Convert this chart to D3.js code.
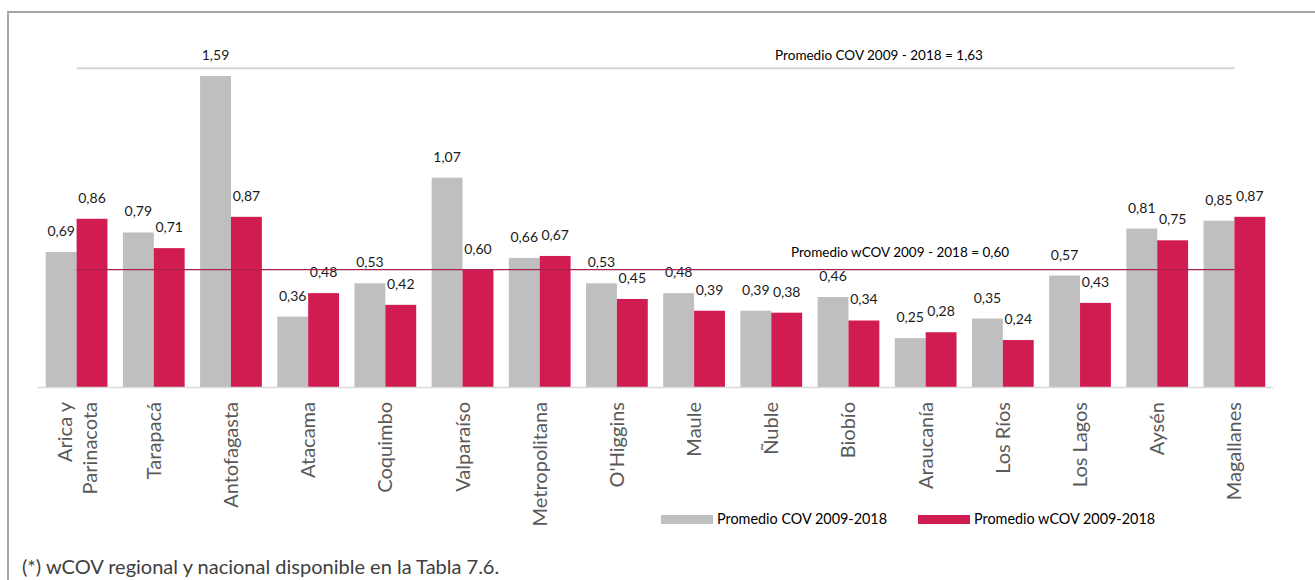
<!DOCTYPE html>
<html><head><meta charset="utf-8">
<script src="https://cdn.jsdelivr.net/npm/d3@7"></script>
<style>
html,body{margin:0;padding:0;background:#fff;}
svg{display:block;font-family:Lato,"Open Sans",sans-serif;}
</style></head>
<body>
<svg id="chart" width="1315" height="580"></svg>
<script>
const categories = ["Arica y Parinacota","Tarapacá","Antofagasta","Atacama","Coquimbo","Valparaíso","Metropolitana","O'Higgins","Maule","Ñuble","Biobío","Araucanía","Los Ríos","Los Lagos","Aysén","Magallanes"];
const cov  = [0.69,0.79,1.59,0.36,0.53,1.07,0.66,0.53,0.48,0.39,0.46,0.25,0.35,0.57,0.81,0.85];
const wcov = [0.86,0.71,0.87,0.48,0.42,0.60,0.67,0.45,0.39,0.38,0.34,0.28,0.24,0.43,0.75,0.87];
const seriesNames = ["Promedio COV 2009-2018","Promedio wCOV 2009-2018"];
const avgCov = 1.63, avgWcov = 0.60;
const avgLabels = ["Promedio COV 2009 - 2018 = 1,63","Promedio wCOV 2009 - 2018 = 0,60"];
const footnote = "(*) wCOV regional y nacional disponible en la Tabla 7.6.";

const svg = d3.select("#chart");
const grayC = "#bfbfbf", redC = "#d11c52";
const baseY = 387;
const x = d3.scaleBand().domain(categories).range([38,1273]).paddingInner(0.2).paddingOuter(0.1);
const x1 = d3.scaleBand().domain([0,1]).range([0,x.bandwidth()]);
const y = d3.scaleLinear().domain([0,1.59]).range([baseY, 76]);
const fmt = v => d3.format(".2f")(v).replace(".",",");

// border (top & left)
svg.append("path").attr("d","M8,1000 L8,12 L1400,12").attr("fill","none").attr("stroke","#a6a6a6").attr("stroke-width",2);

// bars
const g = svg.append("g");
const cat = g.selectAll("g.cat").data(categories).join("g").attr("transform",d=>`translate(${x(d)},0)`);
cat.append("rect").attr("x",x1(0)).attr("width",x1.bandwidth()).attr("y",(d,i)=>y(cov[i])).attr("height",(d,i)=>baseY-y(cov[i])).attr("fill",grayC);
cat.append("rect").attr("x",x1(1)).attr("width",x1.bandwidth()).attr("y",(d,i)=>y(wcov[i])).attr("height",(d,i)=>baseY-y(wcov[i])).attr("fill",redC);

// axis line
svg.append("line").attr("x1",38).attr("x2",1273).attr("y1",baseY+0.5).attr("y2",baseY+0.5).attr("stroke","#d9d9d9").attr("stroke-width",1.5);

// average lines
const xs = x(categories[0])+x.bandwidth()/2, xe = x(categories[categories.length-1])+x.bandwidth()/2;
svg.append("line").attr("x1",xs).attr("x2",xe).attr("y1",y(avgCov)).attr("y2",y(avgCov)).attr("stroke","#d4d4d4").attr("stroke-width",2);
svg.append("line").attr("x1",xs).attr("x2",xe).attr("y1",y(avgWcov)).attr("y2",y(avgWcov)).attr("stroke","#a8234f").attr("stroke-width",1.3);
svg.append("text").attr("x",879).attr("y",y(avgCov)-8).attr("text-anchor","middle").attr("font-size",13.5).attr("fill","#000").text(avgLabels[0]);
svg.append("text").attr("x",900).attr("y",y(avgWcov)-13).attr("text-anchor","middle").attr("font-size",13.5).attr("fill","#000").text(avgLabels[1]);

// data labels
cat.append("text").attr("x",x1(0)+x1.bandwidth()/2).attr("y",(d,i)=>y(cov[i])-16).attr("text-anchor","middle").attr("font-size",14).attr("fill","#1a1a1a").text((d,i)=>fmt(cov[i]));
cat.append("text").attr("x",x1(1)+x1.bandwidth()/2).attr("y",(d,i)=>y(wcov[i])-16).attr("text-anchor","middle").attr("font-size",14).attr("fill","#1a1a1a").text((d,i)=>fmt(wcov[i]));

// category labels (rotated)
const lab = svg.append("g").selectAll("text").data(categories).join("text")
  .attr("transform",d=>`translate(${x(d)+x.bandwidth()/2},402) rotate(-90)`)
  .attr("text-anchor","end").attr("font-size",20).attr("fill","#595959");
lab.each(function(d){
  const t = d3.select(this);
  if(d==="Arica y Parinacota"){
    t.append("tspan").attr("x",0).attr("dy","-0.25em").text("Arica y");
    t.append("tspan").attr("x",0).attr("dy","1.25em").text("Parinacota");
  } else {
    t.append("tspan").attr("x",0).attr("dy","0.35em").text(d);
  }
});

// legend
const leg = [[661,grayC,seriesNames[0]],[918,redC,seriesNames[1]]];
leg.forEach(([lx,c,n])=>{
  svg.append("rect").attr("x",lx).attr("y",515).attr("width",52).attr("height",9).attr("fill",c);
  svg.append("text").attr("x",lx+56).attr("y",524).attr("font-size",14.4).attr("fill","#000").text(n);
});

// footnote
svg.append("text").attr("x",22).attr("y",574).attr("font-size",20).attr("fill","#404040").text(footnote);
</script>
</body></html>
